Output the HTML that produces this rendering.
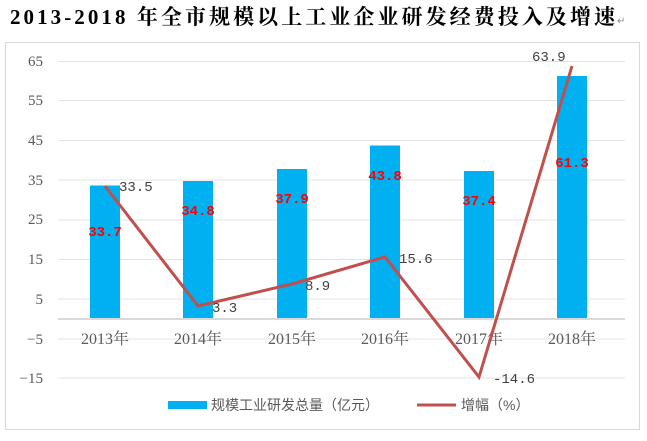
<!DOCTYPE html><html><head><meta charset="utf-8"><style>
body{margin:0;background:#fff;width:647px;height:436px;overflow:hidden}
</style></head><body>
<svg width="647" height="436" xmlns="http://www.w3.org/2000/svg" font-family="'Liberation Mono','Noto Sans CJK SC',monospace">
<text x="10" y="24" textLength="605" lengthAdjust="spacing" font-family="'Liberation Serif','Noto Serif CJK SC',serif" font-size="21" font-weight="bold" fill="#000">2013-2018 年全市规模以上工业企业研发经费投入及增速</text>
<text x="617" y="24" font-size="10" fill="#888">↵</text>
<rect x="5.5" y="42.5" width="634" height="387" fill="#fff" stroke="#d9d9d9"/>
<g stroke="#e3e3e3" stroke-width="1">
<line x1="58" x2="625" y1="61.5" y2="61.5"/><line x1="58" x2="625" y1="100.5" y2="100.5"/>
<line x1="58" x2="625" y1="140.5" y2="140.5"/><line x1="58" x2="625" y1="180" y2="180"/>
<line x1="58" x2="625" y1="220" y2="220"/><line x1="58" x2="625" y1="259.5" y2="259.5"/>
<line x1="58" x2="625" y1="299" y2="299"/><line x1="58" x2="625" y1="339" y2="339"/>
<line x1="58" x2="625" y1="378" y2="378"/>
</g>
<g font-size="15" fill="#595959" text-anchor="end" font-family="'Liberation Serif',serif">
<text x="43" y="66">65</text><text x="43" y="105">55</text><text x="43" y="145">45</text>
<text x="43" y="185">35</text><text x="43" y="224">25</text><text x="43" y="264">15</text>
<text x="43" y="304">5</text><text x="43" y="344">−5</text><text x="43" y="383">−15</text>
</g>
<g fill="#00b0f0">
<rect x="90" y="185.5" width="30" height="133.5"/>
<rect x="183" y="181" width="30" height="138"/>
<rect x="277" y="169" width="30" height="150"/>
<rect x="370" y="145.5" width="30" height="173.5"/>
<rect x="464" y="171" width="30" height="148"/>
<rect x="557" y="76" width="30" height="243"/>
</g>
<line x1="58" x2="625" y1="319" y2="319" stroke="#d9d9d9" stroke-width="2"/>
<g font-size="16" fill="#595959" text-anchor="middle" font-family="'Liberation Serif','Noto Serif CJK SC',serif">
<text x="105" y="344">2013年</text><text x="198" y="344">2014年</text><text x="292" y="344">2015年</text>
<text x="385" y="344">2016年</text><text x="479" y="344">2017年</text><text x="572" y="344">2018年</text>
</g>
<polyline points="105,186 198,306 292,284 385,257 479,377 572,66" fill="none" stroke="#c0504d" stroke-width="3"/>
<g font-size="14" fill="#404040">
<text x="119" y="191">33.5</text><text x="212" y="312">3.3</text><text x="305" y="290">8.9</text>
<text x="399" y="263">15.6</text><text x="493" y="383">-14.6</text><text x="532" y="61">63.9</text>
</g>
<g font-size="14" fill="#ff0000" font-weight="bold" text-anchor="middle">
<text x="105" y="236">33.7</text><text x="198" y="215">34.8</text><text x="292" y="203">37.9</text>
<text x="385" y="180">43.8</text><text x="479" y="205">37.4</text><text x="572" y="167">61.3</text>
</g>
<rect x="168" y="401" width="39" height="8" fill="#00b0f0"/>
<text x="211" y="410" font-size="14" fill="#595959" font-family="'Liberation Sans','Noto Sans CJK SC',sans-serif">规模工业研发总量（亿元）</text>
<line x1="417" x2="456" y1="405" y2="405" stroke="#c0504d" stroke-width="3"/>
<text x="461" y="410" font-size="14" fill="#595959" font-family="'Liberation Sans','Noto Sans CJK SC',sans-serif">增幅（%）</text>
</svg>
</body></html>
